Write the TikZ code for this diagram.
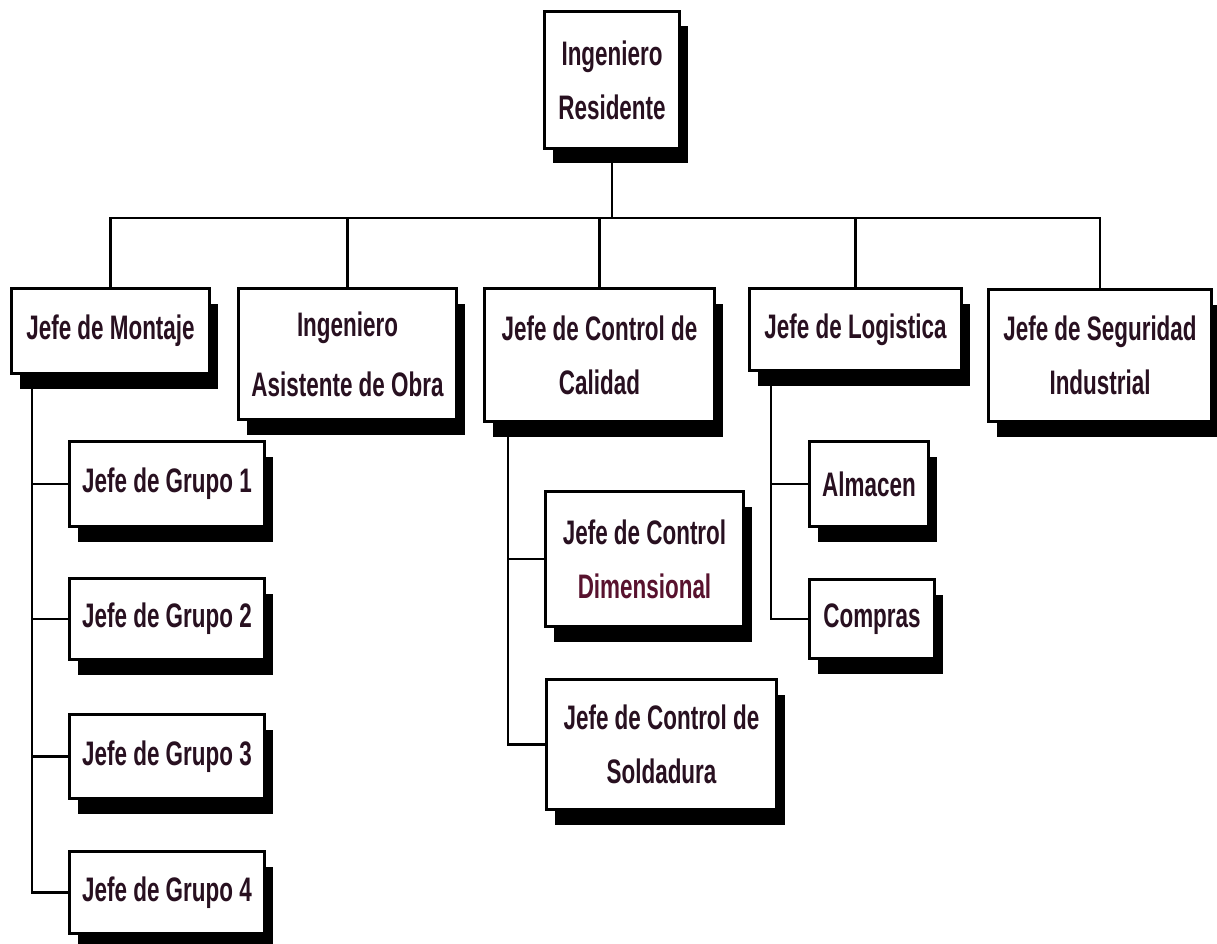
\documentclass[tikz,border=0pt]{standalone}
\usepackage{fontspec}
\setmainfont{Liberation Sans}[FakeStretch=0.66]
\usetikzlibrary{shadows,backgrounds}
\definecolor{txt}{RGB}{40,16,32}
\definecolor{maroontxt}{RGB}{88,18,46}
\begin{document}
\begin{tikzpicture}[x=1pt,y=-1pt,
  orgbox/.style={draw, line width=3pt, fill=white, rectangle, anchor=north west,
    inner sep=0pt, align=center, font=\fontsize{34}{54}\selectfont\bfseries, text=txt,
    general shadow={fill=black, shadow xshift=8pt, shadow yshift=-15pt}},
  conn/.style={line width=2.6pt, draw=black}]
\useasboundingbox (0,0) rectangle (1217,944);
% top
\node[orgbox, minimum width=135pt, minimum height=137pt] (res) at (543,10) {Ingeniero\\Residente};
% level 1
\node[orgbox, minimum width=198pt, minimum height=85pt] (mon) at (10,287) {Jefe de Montaje};
\node[orgbox, minimum width=218pt, minimum height=131pt, font=\fontsize{34}{60}\selectfont\bfseries] (asi) at (237,287) {Ingeniero\\Asistente de Obra};
\node[orgbox, minimum width=230pt, minimum height=133pt] (cal) at (483,287) {Jefe de Control de\\Calidad};
\node[orgbox, minimum width=212pt, minimum height=82pt] (log) at (748,287) {Jefe de Logistica};
\node[orgbox, minimum width=223pt, minimum height=132pt] (seg) at (987,288) {Jefe de Seguridad\\Industrial};
% montaje children
\node[orgbox, minimum width=195pt, minimum height=85pt] (g1) at (68,440) {Jefe de Grupo 1};
\node[orgbox, minimum width=195pt, minimum height=81pt] (g2) at (68,577) {Jefe de Grupo 2};
\node[orgbox, minimum width=195pt, minimum height=84pt] (g3) at (68,713) {Jefe de Grupo 3};
\node[orgbox, minimum width=195pt, minimum height=82pt] (g4) at (68,850) {Jefe de Grupo 4};
% calidad children
\node[orgbox, minimum width=198pt, minimum height=135pt] (dim) at (544,490) {Jefe de Control\\\textcolor{maroontxt}{Dimensional}};
\node[orgbox, minimum width=230pt, minimum height=130pt] (sol) at (545,678) {Jefe de Control de\\Soldadura};
% logistica children
\node[orgbox, minimum width=119pt, minimum height=85pt] (alm) at (808,440) {Almacen};
\node[orgbox, minimum width=125pt, minimum height=79pt] (com) at (808,578) {Compras};
\begin{pgfonlayer}{background}
\draw[conn] (res.south) -- ++(0,68) -| (mon.north);
\draw[conn] (res.south) -- ++(0,68) -| (asi.north);
\draw[conn] (res.south) -- ++(0,68) -| (cal.north);
\draw[conn] (res.south) -- ++(0,68) -| (log.north);
\draw[conn] (res.south) -- ++(0,68) -| (seg.north);
\draw[conn] ([xshift=22pt]mon.south west) |- (g1.west);
\draw[conn] ([xshift=22pt]mon.south west) |- (g2.west);
\draw[conn] ([xshift=22pt]mon.south west) |- (g3.west);
\draw[conn] ([xshift=22pt]mon.south west) |- (g4.west);
\draw[conn] ([xshift=25pt]cal.south west) |- (dim.west);
\draw[conn] ([xshift=25pt]cal.south west) |- (sol.west);
\draw[conn] ([xshift=23pt]log.south west) |- (alm.west);
\draw[conn] ([xshift=23pt]log.south west) |- (com.west);
\end{pgfonlayer}
\end{tikzpicture}
\end{document}
